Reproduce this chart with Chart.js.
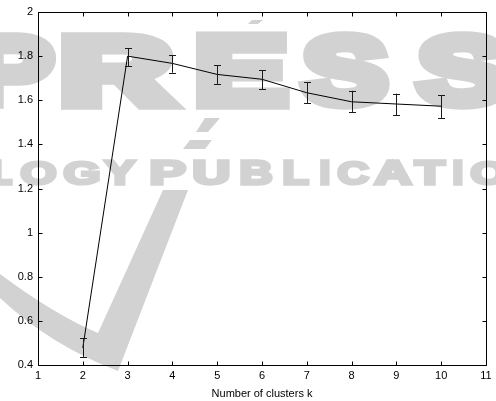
<!DOCTYPE html>
<html>
<head>
<meta charset="utf-8">
<script src="https://cdn.jsdelivr.net/npm/chart.js@4/dist/chart.umd.min.js"></script>
<style>
html,body{margin:0;padding:0;background:#fff;}
#wrap{width:496px;height:401px;position:relative;}
</style>
</head>
<body>
<div id="wrap"><canvas id="c" width="496" height="401"></canvas></div>
<script>
// ---- data ----
const kValues   = [2, 3, 4, 5, 6, 7, 8, 9, 10];
const meanValues = [0.478, 1.800, 1.767, 1.717, 1.695, 1.634, 1.593, 1.583, 1.573];
const errLow    = [0.436, 1.755, 1.725, 1.674, 1.650, 1.587, 1.547, 1.533, 1.520];
const errHigh   = [0.522, 1.835, 1.805, 1.758, 1.737, 1.681, 1.643, 1.630, 1.622];
const xTickValues = [1, 2, 3, 4, 5, 6, 7, 8, 9, 10, 11];
const yTickValues = [0.4, 0.6, 0.8, 1, 1.2, 1.4, 1.6, 1.8, 2];
const xAxisTitle = 'Number of clusters k';
// watermark text (background of the reference image)
const wmTop = 'PRESS';
const wmBottom = 'LOGY PUBLICATIONS';

const FONT = '"Liberation Sans", Arial, sans-serif';

// watermark letter boxes [x0, x1]
const wmTopBoxes = [[-30,57],[60,180],[195,290],[298,390],[413,510]];
const wmBottomBoxes = [[-6,13],[20,57],[63,100],[103,137],null,[150,187],[193,230],[240,273],[283,310],[320,330],[337,370],[373,413],[413,447],[453,463],[470,507],[515,550],[560,590]];

function fitLetter(ctx, ch, x0, x1, y0, y1, sw) {
  ctx.save();
  ctx.font = 'bold 100px ' + FONT;
  ctx.textAlign = 'left';
  ctx.textBaseline = 'alphabetic';
  const m = ctx.measureText(ch);
  const w = m.actualBoundingBoxLeft + m.actualBoundingBoxRight + sw;
  const h = m.actualBoundingBoxAscent + m.actualBoundingBoxDescent + sw;
  const sx = (x1 - x0) / w, sy = (y1 - y0) / h;
  ctx.translate(x0, y0);
  ctx.scale(sx, sy);
  const tx = m.actualBoundingBoxLeft + sw / 2, ty = m.actualBoundingBoxAscent + sw / 2;
  ctx.fillText(ch, tx, ty);
  ctx.lineWidth = sw;
  ctx.lineJoin = 'miter';
  ctx.strokeText(ch, tx, ty);
  ctx.restore();
}

const watermarkPlugin = {
  id: 'watermark',
  beforeDraw(chart) {
    const ctx = chart.ctx;
    ctx.save();
    ctx.fillStyle = '#d2d2d2';
    ctx.strokeStyle = '#d2d2d2';
    wmTop.split('').forEach((ch, i) => {
      const b = wmTopBoxes[i];
      fitLetter(ctx, ch, b[0], b[1], 32, 110, 12);
    });
    wmBottom.split('').forEach((ch, i) => {
      const b = wmBottomBoxes[i];
      if (!b || ch === ' ') return;
      fitLetter(ctx, ch, b[0], b[1], 160, 186, 10);
    });
    // V shape
    ctx.beginPath();
    ctx.moveTo(0, 274);
    ctx.quadraticCurveTo(55, 315, 98, 333);
    ctx.lineTo(163, 190);
    ctx.lineTo(188, 190);
    ctx.lineTo(118, 371);
    ctx.quadraticCurveTo(50, 345, 0, 298);
    ctx.closePath();
    ctx.fill();
    // slashes / accent pieces
    ctx.beginPath();
    ctx.moveTo(190, 140); ctx.lineTo(212, 140); ctx.lineTo(205, 149); ctx.lineTo(183, 149);
    ctx.closePath(); ctx.fill();
    ctx.beginPath();
    ctx.moveTo(205, 118); ctx.lineTo(220, 118); ctx.lineTo(208, 132); ctx.lineTo(196, 132);
    ctx.closePath(); ctx.fill();
    ctx.beginPath();
    ctx.moveTo(252, 20); ctx.lineTo(263, 20); ctx.lineTo(258, 24); ctx.lineTo(248, 24);
    ctx.closePath(); ctx.fill();
    ctx.restore();
  }
};

const framePlugin = {
  id: 'frame',
  afterDatasetsDraw(chart) {
    const ctx = chart.ctx;
    const a = chart.chartArea;
    const xs = chart.scales.x, ys = chart.scales.y;
    ctx.save();
    ctx.lineWidth = 1;
    // error bars
    ctx.strokeStyle = '#1a1a1a';
    for (let i = 0; i < kValues.length; i++) {
      const px = Math.round(xs.getPixelForValue(kValues[i])) + 0.5;
      const pl = ys.getPixelForValue(errLow[i]);
      const ph = ys.getPixelForValue(errHigh[i]);
      ctx.beginPath();
      ctx.moveTo(px, ph); ctx.lineTo(px, pl);
      ctx.moveTo(px - 3.5, Math.round(ph) + 0.5); ctx.lineTo(px + 3.5, Math.round(ph) + 0.5);
      ctx.moveTo(px - 3.5, Math.round(pl) + 0.5); ctx.lineTo(px + 3.5, Math.round(pl) + 0.5);
      ctx.stroke();
    }
    // box
    ctx.strokeStyle = '#000';
    const L = Math.round(a.left) + 0.5, R = Math.round(a.right) + 0.5;
    const T = Math.round(a.top) + 0.5, B = Math.round(a.bottom) + 0.5;
    ctx.beginPath();
    ctx.rect(L, T, R - L, B - T);
    ctx.stroke();
    // inward ticks
    const tl = 4;
    ctx.beginPath();
    xTickValues.forEach(v => {
      const p = Math.round(xs.getPixelForValue(v)) + 0.5;
      ctx.moveTo(p, B); ctx.lineTo(p, B - tl);
      ctx.moveTo(p, T); ctx.lineTo(p, T + tl);
    });
    yTickValues.forEach(v => {
      const p = Math.round(ys.getPixelForValue(v)) + 0.5;
      ctx.moveTo(L, p); ctx.lineTo(L + tl, p);
      ctx.moveTo(R, p); ctx.lineTo(R - tl, p);
    });
    ctx.stroke();
    ctx.restore();
  }
};

new Chart(document.getElementById('c'), {
  type: 'line',
  data: {
    datasets: [{
      data: kValues.map((k, i) => ({x: k, y: meanValues[i]})),
      borderColor: '#000',
      borderWidth: 1,
      pointRadius: 0,
      tension: 0,
      fill: false
    }]
  },
  options: {
    responsive: false,
    animation: false,
    devicePixelRatio: 1,
    layout: {padding: {top: 12, right: 10, left: 0, bottom: 0}},
    plugins: {legend: {display: false}, tooltip: {enabled: false}},
    scales: {
      x: {
        type: 'linear', min: 1, max: 11,
        afterBuildTicks(s) { s.ticks = xTickValues.map(v => ({value: v})); },
        afterFit(s) { s.height = 36; },
        grid: {display: false, drawTicks: false},
        border: {display: false},
        ticks: {color: '#000', font: {family: FONT, size: 11}, padding: 4, maxRotation: 0, autoSkip: false},
        title: {display: true, text: xAxisTitle, color: '#000', font: {family: FONT, size: 11}, padding: {top: 0, bottom: 0}}
      },
      y: {
        type: 'linear', min: 0.4, max: 2,
        afterBuildTicks(s) { s.ticks = yTickValues.map(v => ({value: v})); },
        afterFit(s) { s.width = 38; },
        grid: {display: false, drawTicks: false},
        border: {display: false},
        ticks: {color: '#000', font: {family: FONT, size: 11}, padding: 5, autoSkip: false,
                callback: v => String(v)}
      }
    }
  },
  plugins: [watermarkPlugin, framePlugin]
});
</script>
</body>
</html>
